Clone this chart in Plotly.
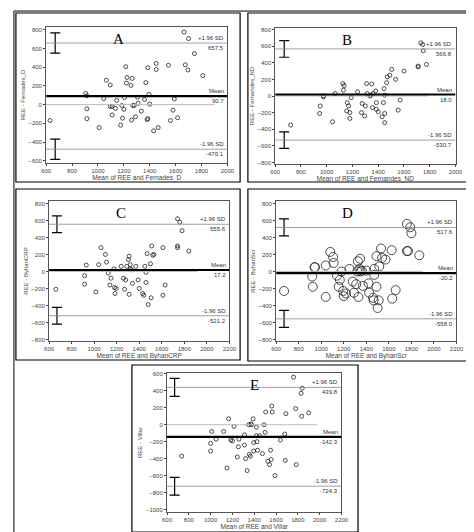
import plotly.graph_objects as go

# ---- panel A : REE vs Fernades_D
a_x = [630, 905, 915, 915, 915, 1010, 1045, 1065, 1095, 1095, 1110, 1110, 1135, 1145, 1175, 1185, 1190, 1200,
       1205, 1215, 1220, 1225, 1255, 1260, 1265, 1270, 1280, 1290, 1305, 1310, 1335, 1360, 1370, 1380, 1385,
       1385, 1395, 1400, 1430, 1450, 1450, 1465, 1545, 1560, 1580, 1590, 1615, 1665, 1675, 1695, 1700, 1745, 1810]
a_y = [-170, 120, 95, -45, -150, -245, 65, 260, 210, -20, -20, -110, -40, 45, -220, -10, -145, -50,
       75, 405, 230, 290, 205, -165, 280, -10, -10, -130, 80, 15, -70, 55, 235, -160, 395,
       -150, 110, 5, -280, 440, 375, -245, 420, -170, -60, 60, -140, 775, 425, 370, 705, 545, 310]

# ---- panel B : REE vs Fernandes_ND
b_x = [720, 945, 950, 975, 975, 1045, 1065, 1125, 1130, 1135, 1155, 1160, 1170, 1180, 1180, 1190, 1240, 1270,
       1275, 1295, 1300, 1310, 1315, 1335, 1345, 1350, 1355, 1360, 1380, 1385, 1385, 1400, 1430, 1440, 1445,
       1450, 1450, 1450, 1465, 1470, 1490, 1505, 1535, 1555, 1570, 1600, 1710, 1710, 1730, 1745, 1750, 1775]
b_y = [-350, -210, -120, -10, 0, -310, 30, 150, 70, 125, -180, -80, -120, -200, -270, -20, 50, -200,
       -90, -240, -120, 150, 30, 0, 10, 145, -140, 30, 60, -80, -160, -190, -250, -80, 90,
       -320, -210, 10, 160, 230, 250, 320, 200, -170, -50, 300, 360, 350, 640, 620, 545, 380]

# ---- panel C : REE vs ByhanCRP
c_x = [660, 915, 915, 930, 1015, 1040, 1060, 1100, 1110, 1125, 1140, 1150, 1175, 1180, 1185, 1195, 1240, 1260,
       1270, 1280, 1290, 1305, 1310, 1310, 1320, 1320, 1330, 1340, 1370, 1390, 1400, 1430, 1440, 1450, 1460,
       1460, 1470, 1480, 1500, 1505, 1510, 1520, 1530, 1610, 1610, 1630, 1740, 1740, 1760, 1780, 1840, 1740]
c_y = [-210, -150, -50, 75, -240, 80, 280, 200, 110, -20, -160, -80, 30, -190, -260, -200, 60, -80,
       -210, -100, 60, 140, -270, 180, 80, 30, 20, -140, 60, -100, -200, -260, -280, 60, -10,
       -130, 210, -390, 90, -310, 300, 190, 200, 280, -280, -160, 620, 300, 580, 480, 240, 280]

# ---- panel D : REE vs ByhanScr
d_x = [670, 920, 925, 940, 945, 1040, 1040, 1080, 1105, 1110, 1140, 1155, 1165, 1180, 1195, 1200, 1220, 1250,
       1280, 1290, 1310, 1320, 1325, 1330, 1340, 1345, 1350, 1360, 1370, 1400, 1420, 1425, 1460, 1465, 1470,
       1470, 1490, 1490, 1500, 1510, 1515, 1530, 1540, 1570, 1625, 1630, 1660, 1760, 1760, 1770, 1790, 1800, 1870]
d_y = [-230, -60, -180, 50, 50, -300, 70, 230, 170, 100, -50, -180, -100, 0, -230, -290, -260, 30,
       -120, -250, -150, 0, 120, -300, 30, 150, 0, 10, -170, 10, -140, -250, -310, -340, -40,
       30, 180, -180, -430, -340, 60, 270, 160, 140, 250, -320, -220, 560, 240, 240, 520, 450, 190]

# ---- panel E : REE vs Villar
e_x = [735, 1000, 1000, 1010, 1050, 1120, 1150, 1165, 1185, 1200, 1215, 1245, 1255, 1260, 1310, 1310, 1320, 1335,
       1350, 1355, 1365, 1370, 1375, 1390, 1395, 1395, 1420, 1420, 1425, 1430, 1450, 1475, 1490, 1500, 1505,
       1525, 1540, 1550, 1555, 1560, 1565, 1590, 1640, 1680, 1685, 1690, 1760, 1780, 1785, 1830, 1835, 1840, 1900]
e_y = [-370, -310, -220, -80, -170, -80, -510, 70, -180, -190, -20, -380, -260, -170, -120, -240, -400, -540,
       0, -350, -370, 10, 0, 70, -210, -310, -30, -130, -200, -300, -130, -340, 0, -90, 150,
       -430, -470, -300, -410, 220, 150, -600, -180, -110, -420, 130, 560, 190, -470, 370, 100, 430, 140]

letters = ["A", "B", "C", "D", "E"]
names = ["Fernades_D", "Fernandes_ND", "ByhanCRP", "ByhanScr", "Villar"]
means = [90.7, 18.0, 17.2, -20.2, -142.3]
upper = [657.5, 566.8, 555.6, 517.6, 439.8]
lower = [-476.1, -530.7, -521.2, -558.0, -724.3]
ci_half = [108, 100, 98, 100, 105]
zero_end = [1900, 1790, 1920, 1900, 1980]
xmax = [2000, 2000, 2200, 2200, 2200]
yranges = [[-625, 830], [-820, 820], [-820, 830], [-820, 830], [-1030, 610]]
xs = [a_x, b_x, c_x, d_x, e_x]
ys = [a_y, b_y, c_y, d_y, e_y]

W, H = 474, 532
# plot areas and panel boxes in pixels (x0, x1, y0, y1), y from top
areas = [(34, 220, 17, 154), (269, 454, 18, 155), (37, 222, 192, 333), (270, 455, 192, 333), (158, 337, 365, 505)]
boxes = [(3, 233, 3, 173), (241, 471, 3, 173), (3, 233, 180, 352), (241, 471, 180, 353), (122, 354, 357, 525)]

fig = go.Figure()
shapes = []
annots = []
font = "Liberation Sans"
for i in range(5):
    n = "" if i == 0 else str(i + 1)
    xa, ya = "x" + n, "y" + n
    x0, x1, y0, y1 = areas[i]
    fig.update_layout({
        "xaxis" + n: dict(domain=[x0 / W, x1 / W], anchor=ya, range=[600, xmax[i]], dtick=200,
                          showgrid=False, zeroline=False, showline=True, mirror=True, linecolor="#555",
                          ticks="outside", ticklen=2, tickfont=dict(size=6, color="#444"),
                          title=dict(text="Mean of REE and " + names[i], font=dict(size=6.5, color="#444"), standoff=2)),
        "yaxis" + n: dict(domain=[1 - y1 / H, 1 - y0 / H], anchor=xa, range=yranges[i], dtick=200,
                          showgrid=False, zeroline=False, showline=True, mirror=True, linecolor="#555",
                          ticks="outside", ticklen=2, tickfont=dict(size=6, color="#444"),
                          title=dict(text="REE - " + names[i], font=dict(size=6, color="#444"), standoff=2)),
    })
    msize = 9 if i == 3 else 4
    fig.add_trace(go.Scatter(x=xs[i], y=ys[i], mode="markers", xaxis=xa, yaxis=ya, showlegend=False,
                             marker=dict(symbol="circle-open", size=msize, color="#222", line=dict(width=0.8))))
    # limit of agreement CI bars
    fig.add_trace(go.Scatter(x=[670, 670], y=[upper[i], lower[i]], mode="markers", xaxis=xa, yaxis=ya,
                             showlegend=False, marker=dict(size=0.1, color="black"),
                             error_y=dict(type="constant", value=ci_half[i], width=5, thickness=1.2, color="black")))
    # lines
    shapes.append(dict(type="line", xref=xa, yref=ya, x0=600, x1=zero_end[i], y0=0, y1=0,
                       line=dict(color="#bbb", width=1)))
    for v, col, wd in [(upper[i], "#888", 0.8), (lower[i], "#888", 0.8), (means[i], "black", 2.2)]:
        shapes.append(dict(type="line", xref=xa, yref=ya, x0=600, x1=xmax[i], y0=v, y1=v,
                           line=dict(color=col, width=wd)))
    for v, top in [(upper[i], "+1.96 SD"), (means[i], "Mean"), (lower[i], "-1.96 SD")]:
        annots.append(dict(x=xmax[i] * 0.995, y=v, xref=xa, yref=ya, text=top, showarrow=False,
                           xanchor="right", yanchor="bottom", font=dict(size=6, color="#333")))
        annots.append(dict(x=xmax[i] * 0.995, y=v, xref=xa, yref=ya, text="%.1f" % v, showarrow=False,
                           xanchor="right", yanchor="top", font=dict(size=6, color="#333")))
    annots.append(dict(x=(x0 + x1) / 2 / W - 0.04 * (i != 4), y=1 - (y0 + 2) / H, xref="paper", yref="paper",
                       text=letters[i], showarrow=False, xanchor="center", yanchor="top",
                       font=dict(size=15, family="Liberation Serif", color="black")))
    bx0, bx1, by0, by1 = boxes[i]
    shapes.append(dict(type="rect", xref="paper", yref="paper", x0=bx0 / W, x1=bx1 / W,
                       y0=1 - by1 / H, y1=1 - by0 / H, line=dict(color="black", width=1.2)))

shapes.append(dict(type="rect", xref="paper", yref="paper", x0=0.002, x1=0.998, y0=0.002, y1=0.998,
                   line=dict(color="black", width=1)))

fig.update_layout(width=W, height=H, margin=dict(l=0, r=0, t=0, b=0), plot_bgcolor="white",
                  paper_bgcolor="white", shapes=shapes, annotations=annots,
                  font=dict(family=font))
fig.write_html("out.html")
